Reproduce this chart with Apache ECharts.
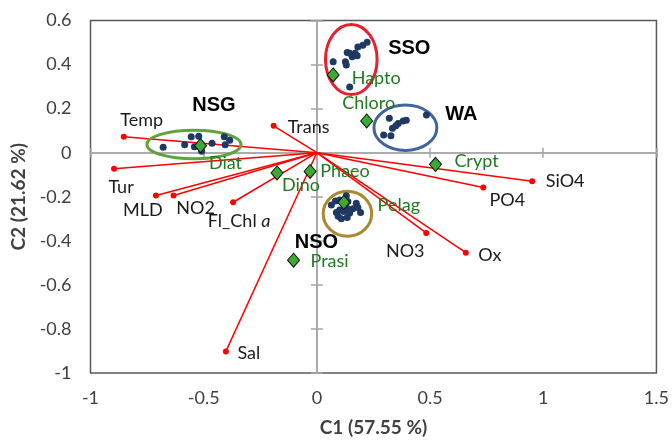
<!DOCTYPE html>
<html><head><meta charset="utf-8">
<script src="https://cdn.jsdelivr.net/npm/echarts@6/dist/echarts.min.js"></script>
<style>html,body{margin:0;padding:0;background:#fff}#c{width:672px;height:442px}</style>
</head><body><div id="c"></div>
<script>
// ---------- axis settings ----------
const xMin = -1, xMax = 1.5, xStep = 0.5;
const yMin = -1, yMax = 0.6, yStep = 0.2;
const xTitle = 'C1 (57.55 %)';
const yTitle = 'C2 (21.62 %)';

// ---------- environmental variables (red vectors) ----------
const varNames = ['Temp', 'Tur', 'MLD', 'NO2', 'Fl_Chl a', 'Trans', 'Sal', 'SiO4', 'PO4', 'NO3', 'Ox'];
const varC1 = [-0.853, -0.896, -0.711, -0.633, -0.370, -0.191, -0.402, 0.951, 0.735, 0.483, 0.658];
const varC2 = [0.072, -0.073, -0.194, -0.194, -0.225, 0.122, -0.902, -0.130, -0.158, -0.364, -0.454];

// ---------- phytoplankton groups (green diamonds) ----------
const grpNames = ['Hapto', 'Chloro', 'Diat', 'Crypt', 'Dino', 'Phaeo', 'Pelag', 'Prasi'];
const grpC1 = [0.072, 0.220, -0.514, 0.524, -0.176, -0.030, 0.119, -0.103];
const grpC2 = [0.353, 0.144, 0.032, -0.053, -0.092, -0.085, -0.226, -0.488];

// ---------- samples (blue dots) ----------
const ssoC1 = [0.222, 0.203, 0.181, 0.134, 0.145, 0.159, 0.169, 0.178, 0.156, 0.072, 0.126, 0.130, 0.145];
const ssoC2 = [0.501, 0.488, 0.480, 0.455, 0.451, 0.446, 0.451, 0.440, 0.435, 0.413, 0.413, 0.398, 0.298];
const nsgC1 = [-0.679, -0.584, -0.555, -0.522, -0.541, -0.509, -0.463, -0.409, -0.385, -0.405];
const nsgC2 = [0.025, 0.036, 0.072, 0.075, 0.027, 0.007, 0.043, 0.072, 0.057, 0.036];
const waC1 = [0.320, 0.359, 0.381, 0.395, 0.349, 0.334, 0.295, 0.327, 0.484];
const waC2 = [0.156, 0.132, 0.144, 0.147, 0.122, 0.111, 0.080, 0.077, 0.171];
const nsoC1 = [0.064, 0.082, 0.101, 0.130, 0.137, 0.174, 0.181, 0.193, 0.159, 0.133, 0.119, 0.101, 0.086, 0.094, 0.108, 0.134, 0.145];
const nsoC2 = [-0.237, -0.219, -0.215, -0.195, -0.222, -0.230, -0.249, -0.271, -0.255, -0.252, -0.267, -0.260, -0.271, -0.289, -0.300, -0.294, -0.274];

// ---------- cluster annotations ----------
const clusterNames = ['SSO', 'NSG', 'WA', 'NSO'];
// ellipse centre and radii, in axis units
const clusterEllipse = [
  [0.152, 0.423, 0.114, 0.159],
  [-0.543, 0.037, 0.208, 0.065],
  [0.391, 0.113, 0.139, 0.103],
  [0.135, -0.277, 0.107, 0.102]
];

// ---------- styles (pixel offsets of labels) ----------
const clusterStyle = [
  { color: '#e8202a', tx: 58, ty: -11 },
  { color: '#5ea33c', tx: 20, ty: -39 },
  { color: '#41659a', tx: 56, ty: -13 },
  { color: '#a88a2e', tx: -31, ty: 29 }
];
const varLabelOffset = {
  'Temp': [18, -17], 'Tur': [7, 18], 'MLD': [-13, 15], 'NO2': [22, 13],
  'Fl_Chl a': [6, 19], 'Trans': [35, 1], 'Sal': [23, 2], 'SiO4': [33, 0],
  'PO4': [24, 13], 'NO3': [-21, 18], 'Ox': [24, 2]
};
const grpLabelOffset = {
  'Hapto': [43, 3], 'Chloro': [2, -18], 'Diat': [25, 18], 'Crypt': [41, -3],
  'Dino': [24, 12], 'Phaeo': [35, 0], 'Pelag': [55, 3], 'Prasi': [36, 1]
};

const FONT = 'Lato';
const TXT = '#1a1a1a';
const AX = '#404040';
const GREEN_TXT = '#1f7a1f';

const chart = echarts.init(document.getElementById('c'), null, { renderer: 'canvas' });

function zip(a, b) { return a.map((v, i) => [v, b[i]]); }

const series = [];

// ellipses + cluster names
series.push({
  type: 'custom',
  xAxisIndex: 0, yAxisIndex: 0,
  silent: true, z: 3,
  data: clusterEllipse.map((e, i) => [e[0], e[1], e[2], e[3], i]),
  encode: { x: 0, y: 1 },
  renderItem: function (params, api) {
    const i = api.value(4);
    const c = api.coord([api.value(0), api.value(1)]);
    const s = api.size([api.value(2), api.value(3)], [api.value(0), api.value(1)]);
    const st = clusterStyle[i];
    return {
      type: 'group',
      children: [
        { type: 'ellipse', shape: { cx: c[0], cy: c[1], rx: s[0], ry: s[1] },
          style: { fill: 'none', stroke: st.color, lineWidth: 3 } },
        { type: 'text', x: c[0] + st.tx, y: c[1] + st.ty,
          style: { text: clusterNames[i], font: 'bold 20px "Liberation Sans", Arial, sans-serif',
                   fill: '#000', align: 'center', verticalAlign: 'middle' } }
      ]
    };
  }
});

const noBorder = { textBorderWidth: 0, textBorderColor: 'transparent', textShadowBlur: 0, textShadowColor: 'transparent' };

// red vectors
varNames.forEach((name, i) => {
  const off = varLabelOffset[name];
  series.push({
    type: 'line', name: name, xAxisIndex: 0, yAxisIndex: 0, z: 2, silent: true,
    lineStyle: { color: '#ff0000', width: 1.5 },
    itemStyle: { color: '#ff0000' },
    data: [
      { value: [0, 0], symbol: 'none' },
      { value: [varC1[i], varC2[i]], symbol: 'circle', symbolSize: 6,
        label: Object.assign({
          show: true, position: 'inside', offset: off,
          formatter: name === 'Fl_Chl a' ? '{n|Fl_Chl }{i|a}' : name,
          color: TXT, fontFamily: FONT, fontSize: 18,
          rich: { n: Object.assign({ color: TXT, fontFamily: FONT, fontSize: 18 }, noBorder),
                  i: Object.assign({ color: TXT, fontFamily: FONT, fontSize: 18, fontStyle: 'italic' }, noBorder) }
        }, noBorder) }
    ]
  });
});

// blue sample dots
[[ssoC1, ssoC2], [nsgC1, nsgC2], [waC1, waC2], [nsoC1, nsoC2]].forEach(p => {
  series.push({
    type: 'scatter', xAxisIndex: 0, yAxisIndex: 0, z: 4, silent: true,
    symbol: 'circle', symbolSize: 7,
    itemStyle: { color: '#1f3864', opacity: 1 },
    data: zip(p[0], p[1])
  });
});

// green diamonds (symbols)
series.push({
  type: 'scatter', xAxisIndex: 0, yAxisIndex: 0, z: 5, silent: true,
  symbol: 'diamond', symbolSize: [12, 14],
  itemStyle: { color: '#3aaa35', borderColor: '#111', borderWidth: 1, opacity: 1 },
  label: Object.assign({ show: true, position: 'inside', color: GREEN_TXT, fontFamily: FONT, fontSize: 18,
           formatter: p => grpNames[p.dataIndex] }, noBorder),
  data: grpNames.map((n, i) => ({
    value: [grpC1[i], grpC2[i]],
    label: { offset: grpLabelOffset[n], color: GREEN_TXT }
  }))
});

function valueAxis(min, max, step) {
  return { type: 'value', min: min, max: max, interval: step, splitLine: { show: false } };
}
const zeroLine = { color: '#a6a6a6', width: 1.5 };

const option = {
  animation: false,
  backgroundColor: '#fff',
  grid: { left: 90.5, right: 12.5, top: 20.5, bottom: 65.5, show: true,
          borderColor: '#595959', borderWidth: 1.5, backgroundColor: 'transparent' },
  xAxis: [
    Object.assign(valueAxis(xMin, xMax, xStep), {
      position: 'bottom',
      axisLine: { show: false, onZero: false }, axisTick: { show: false },
      axisLabel: { color: AX, fontFamily: FONT, fontSize: 18, margin: 16, showMinLabel: true, showMaxLabel: true },
      name: xTitle, nameLocation: 'middle', nameGap: 45,
      nameTextStyle: { color: AX, fontFamily: FONT, fontSize: 19, fontWeight: 'bold' }
    }),
    Object.assign(valueAxis(xMin, xMax, xStep), {
      position: 'bottom',
      axisLine: { show: true, onZero: true, onZeroAxisIndex: 0, lineStyle: zeroLine },
      axisTick: { show: true, length: 5, lineStyle: zeroLine },
      axisLabel: { show: false }
    }),
    Object.assign(valueAxis(xMin, xMax, xStep), {
      position: 'bottom',
      axisLine: { show: true, onZero: true, onZeroAxisIndex: 0, lineStyle: zeroLine },
      axisTick: { show: true, inside: true, length: 5, lineStyle: zeroLine },
      axisLabel: { show: false }
    })
  ],
  yAxis: [
    Object.assign(valueAxis(yMin, yMax, yStep), {
      position: 'left',
      axisLine: { show: false, onZero: false }, axisTick: { show: false },
      axisLabel: { color: AX, fontFamily: FONT, fontSize: 18, margin: 19, showMinLabel: true, showMaxLabel: true },
      name: yTitle, nameLocation: 'middle', nameGap: 55,
      nameTextStyle: { color: AX, fontFamily: FONT, fontSize: 19, fontWeight: 'bold' }
    }),
    Object.assign(valueAxis(yMin, yMax, yStep), {
      position: 'left',
      axisLine: { show: true, onZero: true, onZeroAxisIndex: 0, lineStyle: zeroLine },
      axisTick: { show: true, length: 6, lineStyle: zeroLine },
      axisLabel: { show: false }
    }),
    Object.assign(valueAxis(yMin, yMax, yStep), {
      position: 'left',
      axisLine: { show: true, onZero: true, onZeroAxisIndex: 0, lineStyle: zeroLine },
      axisTick: { show: true, inside: true, length: 6, lineStyle: zeroLine },
      axisLabel: { show: false }
    })
  ],
  series: series
};
chart.setOption(option);
</script>
</body></html>
